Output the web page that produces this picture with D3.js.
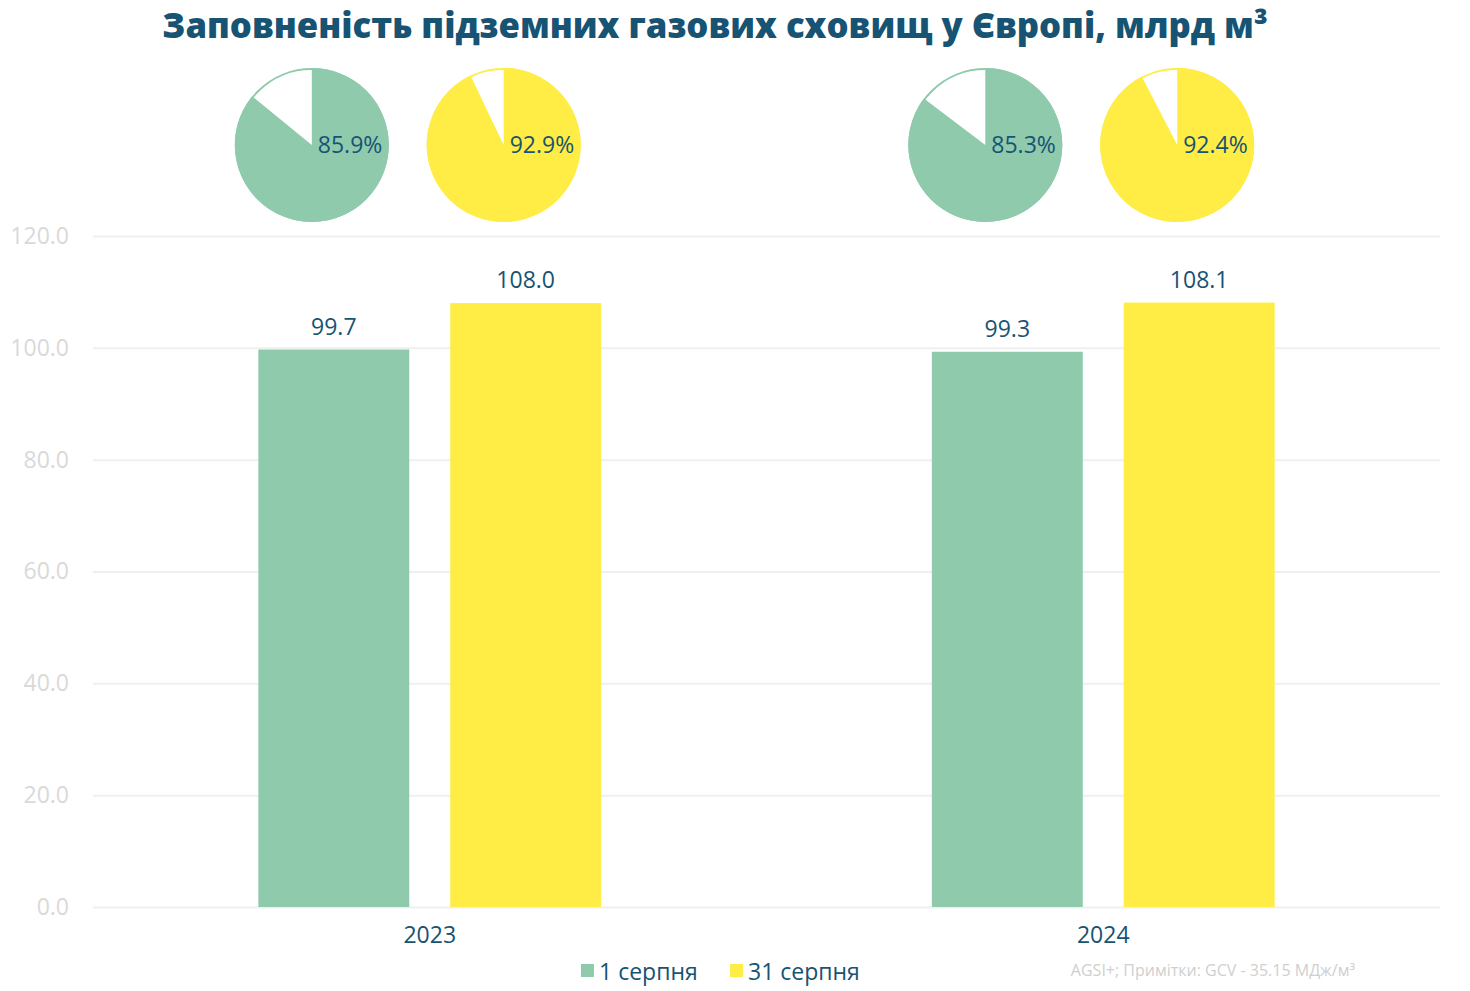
<!DOCTYPE html>
<html>
<head>
<meta charset="utf-8">
<script src="https://cdn.jsdelivr.net/npm/d3@7"></script>
<style>
  body { margin: 0; background: #fff; }
  svg { display: block; font-family: "Open Sans", Lato, sans-serif; }
</style>
</head>
<body>
<svg id="chart" width="1470" height="991"></svg>
<script>
var years = ["2023", "2024"];
var seriesNames = ["1 серпня", "31 серпня"];
var volumes = [[99.7, 108.0], [99.3, 108.1]];
var fillPct = [[85.9, 92.9], [85.3, 92.4]];
var yTicks = [0, 20, 40, 60, 80, 100, 120];

var colors = ["#8fcaad", "#ffed45"];
var textColor = "#175373";
var font = "'Open Sans', Lato, sans-serif";
var fs = 23;

var svg = d3.select("#chart");

var margin = { top: 236, left: 93, right: 30, bottom: 84 },
  width = 1470 - margin.left - margin.right,
  height = 991 - margin.top - margin.bottom;

var x0 = d3.scaleBand().domain(years).range([0, width]);
var groupW = x0.bandwidth() * 0.509;
var x1 = d3
  .scaleBand()
  .domain(seriesNames)
  .range([(x0.bandwidth() - groupW) / 2, (x0.bandwidth() + groupW) / 2])
  .paddingInner(0.2135);
var y = d3.scaleLinear().domain([0, 120]).range([height, 0]);

// title, sized to span the same width as the original
var title = svg
  .append("text")
  .attr("x", 715)
  .attr("y", 38)
  .attr("text-anchor", "middle")
  .attr("fill", textColor)
  .style("font-weight", "800")
  .style("font-size", "32px")
  .text("Заповненість підземних газових сховищ у Європі, млрд м³");
var tw = title.node().getComputedTextLength();
if (tw > 0) title.style("font-size", (32 * 1106 / tw).toFixed(1) + "px");

var chart = svg
  .append("g")
  .attr("transform", "translate(" + margin.left + "," + margin.top + ")");

// grid
var yAxis = d3
  .axisLeft(y)
  .tickValues(yTicks)
  .tickSize(-width)
  .tickPadding(24)
  .tickFormat(d3.format(".1f"));
var ga = chart.append("g").call(yAxis);
ga.select(".domain").remove();
ga.selectAll(".tick line").attr("stroke", "#efefef").attr("stroke-width", 2);
ga.selectAll(".tick text")
  .attr("fill", "#d9d9d9")
  .attr("font-size", fs)
  .attr("font-family", font);

// x axis labels
var xAxis = d3.axisBottom(x0).tickSize(0).tickPadding(20);
var gx = chart
  .append("g")
  .attr("transform", "translate(0," + height + ")")
  .call(xAxis);
gx.select(".domain").remove();
gx.selectAll(".tick text")
  .attr("fill", textColor)
  .attr("font-size", fs)
  .attr("font-family", font);

// bars
var groups = chart
  .selectAll(".grp")
  .data(years)
  .enter()
  .append("g")
  .attr("transform", function (d) {
    return "translate(" + x0(d) + ",0)";
  });

groups
  .selectAll("rect")
  .data(function (d, i) {
    return volumes[i].map(function (v, j) {
      return { s: seriesNames[j], v: v, j: j };
    });
  })
  .enter()
  .append("rect")
  .attr("x", function (d) { return x1(d.s); })
  .attr("y", function (d) { return y(d.v); })
  .attr("width", x1.bandwidth())
  .attr("height", function (d) { return height - y(d.v); })
  .attr("fill", function (d) { return colors[d.j]; });

groups
  .selectAll(".val")
  .data(function (d, i) {
    return volumes[i].map(function (v, j) {
      return { s: seriesNames[j], v: v };
    });
  })
  .enter()
  .append("text")
  .attr("x", function (d) { return x1(d.s) + x1.bandwidth() / 2; })
  .attr("y", function (d) { return y(d.v) - 15; })
  .attr("text-anchor", "middle")
  .attr("fill", textColor)
  .attr("font-size", fs)
  .text(function (d) { return d3.format(".1f")(d.v); });

// pies
var r = 77;
var pie = d3.pie().sort(null).value(function (d) { return d; });
var arc = d3.arc().innerRadius(0).outerRadius(r);

years.forEach(function (yr, i) {
  fillPct[i].forEach(function (p, j) {
    var cx = margin.left + x0(yr) + x1(seriesNames[j]) + x1.bandwidth() / 2 - 22;
    var g = svg.append("g").attr("transform", "translate(" + cx + ",145)");
    g.append("circle")
      .attr("r", r - 1)
      .attr("fill", "#fff")
      .attr("stroke", colors[j])
      .attr("stroke-width", 2);
    g.selectAll("path")
      .data(pie([p, 100 - p]))
      .enter()
      .append("path")
      .attr("d", arc)
      .attr("fill", function (d, k) { return k === 0 ? colors[j] : "none"; });
    g.append("text")
      .attr("x", 6)
      .attr("y", 8)
      .attr("fill", textColor)
      .attr("font-size", fs)
      .text(d3.format(".1f")(p) + "%");
  });
});

// legend
var legX = [581, 730];
seriesNames.forEach(function (s, j) {
  svg.append("rect")
    .attr("x", legX[j])
    .attr("y", 964)
    .attr("width", 13)
    .attr("height", 13)
    .attr("fill", colors[j]);
  svg.append("text")
    .attr("x", legX[j] + 18)
    .attr("y", 980)
    .attr("fill", textColor)
    .attr("font-size", fs)
    .text(s);
});

svg.append("text")
  .attr("x", 1355)
  .attr("y", 976)
  .attr("text-anchor", "end")
  .attr("fill", "#cfcfcf")
  .attr("font-size", 16)
  .text("AGSI+; Примітки: GCV - 35.15 МДж/м³");
</script>
</body>
</html>
